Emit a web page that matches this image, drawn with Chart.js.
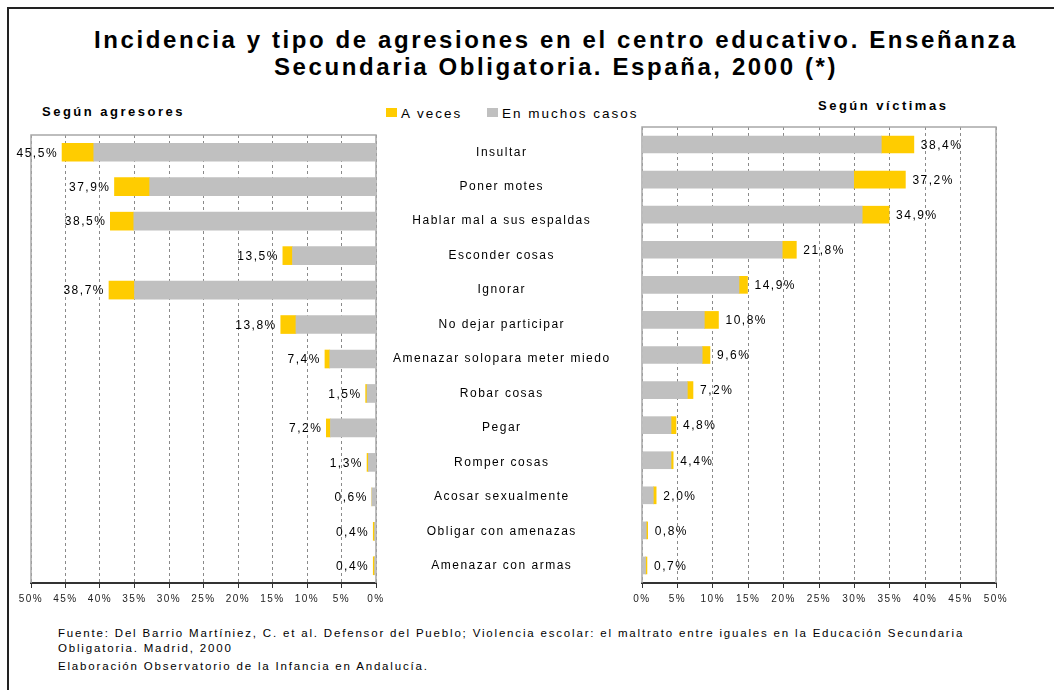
<!DOCTYPE html>
<html><head><meta charset="utf-8">
<script src="https://cdn.jsdelivr.net/npm/chart.js@4/dist/chart.umd.min.js"></script>
<style>
html,body{margin:0;padding:0}
body{width:1054px;height:690px;position:relative;background:#fff;font-family:"Liberation Sans",Arial,sans-serif;overflow:hidden;color:#000}
.ft{position:absolute;left:8px;top:7px;width:1046px;height:0;border-top:2px solid #222}
.fl{position:absolute;left:7px;top:7px;width:0;height:683px;border-left:2px solid #222}
#title{position:absolute;left:0;width:1112px;top:26px;text-align:center;font-weight:bold;font-size:24px;letter-spacing:2.6px;line-height:27px;white-space:nowrap}
.sub{position:absolute;font-weight:bold;font-size:13px;line-height:13px;letter-spacing:2.5px;white-space:nowrap}
.leg{position:absolute;font-size:13.5px;line-height:14px;letter-spacing:2px;white-space:nowrap}
.sw{position:absolute;width:11px;height:9px}
.src{position:absolute;left:58px;font-size:11.5px;line-height:12px;letter-spacing:1.82px;white-space:nowrap}
canvas{position:absolute;top:0}
</style></head>
<body>
<div class="ft"></div><div class="fl"></div>
<div id="title">Incidencia y tipo de agresiones en el centro educativo. Enseñanza<br>Secundaria Obligatoria. España, 2000 (*)</div>
<div class="sub" style="left:42px;top:105px">Según agresores</div>
<div class="sub" style="left:818px;top:99px">Según víctimas</div>
<div class="sw" style="left:386px;top:108px;background:#FFCC00"></div>
<div class="leg" style="left:401px;top:107px">A veces</div>
<div class="sw" style="left:487px;top:108px;background:#C0C0C0"></div>
<div class="leg" style="left:502px;top:107px">En muchos casos</div>
<div class="src" style="top:627px">Fuente: Del Barrio Martíniez, C. et al. Defensor del Pueblo; Violencia escolar: el maltrato entre iguales en la Educación Secundaria</div>
<div class="src" style="top:642px">Obligatoria. Madrid, 2000</div>
<div class="src" style="top:660px">Elaboración Observatorio de la Infancia en Andalucía.</div>
<canvas id="cL" width="640" height="620" style="left:0"></canvas>
<canvas id="cR" width="454" height="620" style="left:600px"></canvas>
<script>
const categories = ['Insultar','Poner motes','Hablar mal a sus espaldas','Esconder cosas','Ignorar','No dejar participar','Amenazar solopara meter miedo','Robar cosas','Pegar','Romper cosas','Acosar sexualmente','Obligar con amenazas','Amenazar con armas'];
const xTicks = [0,5,10,15,20,25,30,35,40,45,50];
// Según agresores
const agresoresMuchos = [40.9,32.8,35.1,12.1,35.0,11.6,6.7,1.3,6.6,1.1,0.6,0.2,0.2];
const agresoresAVeces = [4.6,5.1,3.4,1.4,3.7,2.2,0.7,0.2,0.6,0.2,0.0,0.2,0.2];
const agresoresTotal  = [45.5,37.9,38.5,13.5,38.7,13.8,7.4,1.5,7.2,1.3,0.6,0.4,0.4];
// Según víctimas
const victimasMuchos = [33.8,29.9,31.1,19.8,13.7,8.8,8.5,6.4,4.1,4.1,1.6,0.6,0.5];
const victimasAVeces = [4.6,7.3,3.8,2.0,1.2,2.0,1.1,0.8,0.7,0.3,0.4,0.2,0.2];
const victimasTotal  = [38.4,37.2,34.9,21.8,14.9,10.8,9.6,7.2,4.8,4.4,2.0,0.8,0.7];

const YELLOW = '#FFCC00', GRAY = '#C0C0C0';
const FONT = '"Liberation Sans", Arial, sans-serif';
Chart.defaults.font.family = FONT;

const spacing = {id:'spacing',
  beforeUpdate(c){ c.ctx.letterSpacing = '1.5px'; },
  beforeDraw(c){ c.ctx.letterSpacing = '1.5px'; }};

const frame = {id:'frame', beforeDatasetsDraw(c){
  const {ctx, chartArea:a} = c;
  ctx.save(); ctx.strokeStyle = '#a8a8a8'; ctx.lineWidth = 1.5;
  ctx.beginPath(); ctx.moveTo(a.left, a.bottom); ctx.lineTo(a.left, a.top);
  ctx.lineTo(a.right, a.top); ctx.lineTo(a.right, a.bottom); ctx.stroke(); ctx.restore();
}};

function valueLabels(totals, side){
  return {id:'vl'+side, afterDatasetsDraw(c){
    const ctx = c.ctx, meta = c.getDatasetMeta(1);
    ctx.save(); ctx.letterSpacing = '1.5px';
    ctx.font = '12px ' + FONT; ctx.fillStyle = '#000'; ctx.textBaseline = 'middle';
    meta.data.forEach((el, i) => {
      const txt = totals[i].toFixed(1).replace('.', ',') + '%';
      if (side === 'left') { ctx.textAlign = 'right'; ctx.fillText(txt, el.x - 4, el.y + 1); }
      else { ctx.textAlign = 'left'; ctx.fillText(txt, el.x + 7, el.y + 1); }
    });
    ctx.restore();
  }};
}

function xScale(reverse){
  return {
    stacked:true, reverse:reverse, min:0, max:50,
    afterBuildTicks: s => { s.ticks = xTicks.map(v => ({value:v})); },
    ticks:{callback:v => v + '%', font:{size:10}, color:'#222', padding:5, maxRotation:0, autoSkip:false},
    grid:{color:'#8a8a8a', lineWidth:1, drawTicks:true, tickLength:5, tickColor:'#333', tickWidth:1},
    border:{display:true, color:'#333', width:2, dash:[3,3]},
    afterFit: s => { s.height = 37; }
  };
}

new Chart(document.getElementById('cL'), {
  type:'bar',
  data:{labels:categories, datasets:[
    {label:'En muchos casos', data:agresoresMuchos, backgroundColor:GRAY, barThickness:18},
    {label:'A veces', data:agresoresAVeces, backgroundColor:YELLOW, barThickness:18}
  ]},
  options:{
    indexAxis:'y', responsive:false, animation:false, devicePixelRatio:1,
    layout:{padding:{left:31, right:10, top:135, bottom:0}},
    plugins:{legend:{display:false}, tooltip:{enabled:false}},
    scales:{
      x:xScale(true),
      y:{stacked:true, position:'right', grid:{display:false, drawTicks:false}, border:{display:false},
         ticks:{crossAlign:'center', padding:17, font:{size:12}, color:'#000'},
         afterFit: s => { s.width = 254; }}
    }
  },
  plugins:[spacing, frame, valueLabels(agresoresTotal, 'left')]
});

new Chart(document.getElementById('cR'), {
  type:'bar',
  data:{labels:categories, datasets:[
    {label:'En muchos casos', data:victimasMuchos, backgroundColor:GRAY, barThickness:17},
    {label:'A veces', data:victimasAVeces, backgroundColor:YELLOW, barThickness:17}
  ]},
  options:{
    indexAxis:'y', responsive:false, animation:false, devicePixelRatio:1,
    layout:{padding:{left:42, right:58, top:127, bottom:0}},
    plugins:{legend:{display:false}, tooltip:{enabled:false}},
    scales:{
      x:xScale(false),
      y:{stacked:true, display:false}
    }
  },
  plugins:[spacing, frame, valueLabels(victimasTotal, 'right')]
});
</script>
</body></html>
